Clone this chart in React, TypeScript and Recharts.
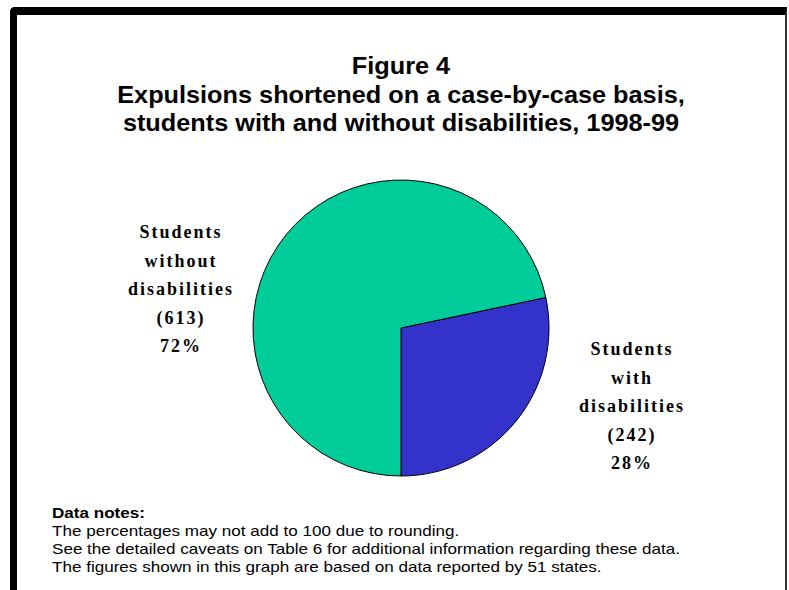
import { Pie, PieChart, Cell } from 'recharts';

const categories = ['Students with disabilities', 'Students without disabilities'];
const counts = [242, 613];
const percents = ['28%', '72%'];
const labelLines = [
  ['Students', 'with', 'disabilities', '(242)', '28%'],
  ['Students', 'without', 'disabilities', '(613)', '72%'],
];
const colors = ['#3333CC', '#00CC99'];

const titleLines = [
  'Figure 4',
  'Expulsions shortened on a case-by-case basis,',
  'students with and without disabilities, 1998-99',
];
const noteLines = [
  'The percentages may not add to 100 due to rounding.',
  'See the detailed caveats on Table 6 for additional information regarding these data.',
  'The figures shown in this graph are based on data reported by 51 states.',
];

const data = categories.map((name, i) => ({ name, value: counts[i], pct: percents[i] }));

// where each label block sits relative to the pie centre
const labelOffsets = [
  { dx: 231, dy: 27 },
  { dx: -220, dy: -90 },
];

const renderLabel = (props: any) => {
  const { cx, cy, index } = props;
  const off = labelOffsets[index];
  return (
    <text
      key={`lbl-${index}`}
      x={cx + off.dx}
      y={cy + off.dy}
      textAnchor="middle"
      fontFamily="'Liberation Serif', 'Times New Roman', serif"
      fontWeight="bold"
      fontSize={18}
      letterSpacing={2}
      fill="#000"
    >
      {labelLines[index].map((t, j) => (
        <tspan key={j} x={cx + off.dx} y={cy + off.dy + j * 28.5}>
          {t}
        </tspan>
      ))}
    </text>
  );
};

// the original text is a bit wider than Arial at the same height
const sansStretch = 1.1;
const noteStretch = 1.22;

export default function App() {
  return (
    <div
      style={{
        position: 'absolute',
        left: 0,
        top: 0,
        width: 789,
        height: 590,
        overflow: 'hidden',
        background: '#fff',
      }}
    >
      <div
        style={{
          position: 'absolute',
          left: 10,
          top: 7,
          width: 768,
          height: 620,
          borderTop: '8px solid #000',
          borderLeft: '7px solid #000',
          borderRight: '2px solid #333',
          borderTopLeftRadius: 5,
        }}
      />
      <div style={{ position: 'absolute', left: 0, top: 0 }}>
        <PieChart width={789} height={590} margin={{ top: 0, right: 0, bottom: 0, left: 0 }}>
          <Pie
            data={data}
            dataKey="value"
            cx={401}
            cy={328}
            outerRadius={148}
            startAngle={-90}
            endAngle={270}
            stroke="#000"
            strokeWidth={1}
            label={renderLabel}
            labelLine={false}
            isAnimationActive={false}
          >
            {data.map((d, i) => (
              <Cell key={d.name} fill={colors[i]} />
            ))}
          </Pie>
        </PieChart>
      </div>
      <svg
        width={789}
        height={590}
        style={{ position: 'absolute', left: 0, top: 0, pointerEvents: 'none' }}
      >
        <g fontFamily="'Liberation Sans', Arial, sans-serif" fontWeight="bold" fontSize={23} fill="#000">
          {titleLines.map((t, i) => (
            <text
              key={i}
              transform={`translate(401 ${74 + i * 28.5}) scale(${sansStretch} 1)`}
              textAnchor="middle"
            >
              {t}
            </text>
          ))}
        </g>
        <g fontFamily="'Liberation Sans', Arial, sans-serif" fill="#000">
          <text transform={`translate(52 518) scale(${noteStretch} 1)`} fontSize={14} fontWeight="bold">
            Data notes:
          </text>
          {noteLines.map((t, i) => (
            <text key={i} transform={`translate(52 ${536 + i * 18}) scale(${noteStretch} 1)`} fontSize={14}>
              {t}
            </text>
          ))}
        </g>
      </svg>
    </div>
  );
}
